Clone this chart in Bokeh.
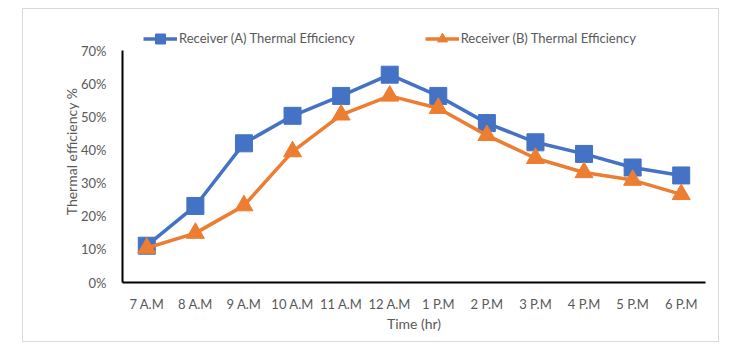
from bokeh.plotting import figure
from bokeh.models import (FactorRange, Range1d, FixedTicker, NumeralTickFormatter,
                          Legend, LegendItem, ColumnDataSource)
from bokeh.embed import file_html
from bokeh.resources import INLINE

times = ["7 A.M", "8 A.M", "9 A.M", "10 A.M", "11 A.M", "12 A.M",
         "1 P.M", "2 P.M", "3 P.M", "4 P.M", "5 P.M", "6 P.M"]
receiver_a = [0.111, 0.231, 0.420, 0.503, 0.563, 0.627,
              0.563, 0.481, 0.423, 0.388, 0.347, 0.323]
receiver_b = [0.104, 0.149, 0.232, 0.395, 0.506, 0.563,
              0.526, 0.444, 0.375, 0.332, 0.309, 0.266]
y_ticks = [0.0, 0.1, 0.2, 0.3, 0.4, 0.5, 0.6, 0.7]
label_a = "Receiver (A) Thermal Efficiency"
label_b = "Receiver (B) Thermal Efficiency"

BLUE = "#4472C4"
ORANGE = "#ED7D31"
GRAY = "#595959"
FONT = "Lato"

src = ColumnDataSource(dict(t=times, a=receiver_a, b=receiver_b))

# frame extends above the 70% tick to hold the legend; the axis line stops at 70%
p = figure(width=697, height=334, output_backend="svg", toolbar_location=None,
           x_range=FactorRange(*times), y_range=Range1d(0, 0.7906),
           min_border_left=99, min_border_right=15, min_border_top=11,
           min_border_bottom=61)
p.margin = (8, 0, 0, 22)
p.styles = {"border": "1px solid #d9d9d9"}
p.outline_line_color = None
p.xgrid.grid_line_color = None
p.ygrid.grid_line_color = None
p.background_fill_color = "white"
p.border_fill_color = "white"

la = p.line("t", "a", source=src, line_color=BLUE, line_width=3.5)
sa = p.scatter("t", "a", source=src, marker="square", size=17,
               fill_color=BLUE, line_color=BLUE)
lb = p.line("t", "b", source=src, line_color=ORANGE, line_width=3.5)
sb = p.scatter("t", "b", source=src, marker="triangle", size=18,
               fill_color=ORANGE, line_color=ORANGE)

for ax in (p.xaxis[0], p.yaxis[0]):
    ax.axis_line_color = "black"
    ax.axis_line_width = 2
    ax.major_tick_line_color = None
    ax.minor_tick_line_color = None
    ax.major_label_text_color = GRAY
    ax.major_label_text_font = FONT
    ax.major_label_text_font_size = "13px"
    ax.axis_label_text_color = GRAY
    ax.axis_label_text_font = FONT
    ax.axis_label_text_font_size = "14px"
    ax.axis_label_text_font_style = "normal"

p.yaxis.ticker = FixedTicker(ticks=y_ticks)
p.yaxis.bounds = (0, 0.7)
p.yaxis.formatter = NumeralTickFormatter(format="0%")
p.yaxis.major_label_standoff = 10
p.yaxis.axis_label = "Thermal efficiency %"
p.yaxis.axis_label_standoff = -2
p.xaxis.major_label_standoff = 7
p.xaxis.axis_label = "Time (hr)"
p.xaxis.axis_label_standoff = 0

legend = Legend(items=[LegendItem(label=label_a, renderers=[la, sa]),
                       LegendItem(label=label_b, renderers=[lb, sb])],
                location=(21, 231.5), orientation="horizontal",
                glyph_width=34, glyph_height=25, label_standoff=2,
                spacing=70, padding=0, margin=0,
                border_line_color=None, background_fill_alpha=0,
                label_text_font=FONT, label_text_font_size="13px",
                label_text_color=GRAY)
p.add_layout(legend, "center")

open("out.html", "w").write(file_html(p, INLINE))
